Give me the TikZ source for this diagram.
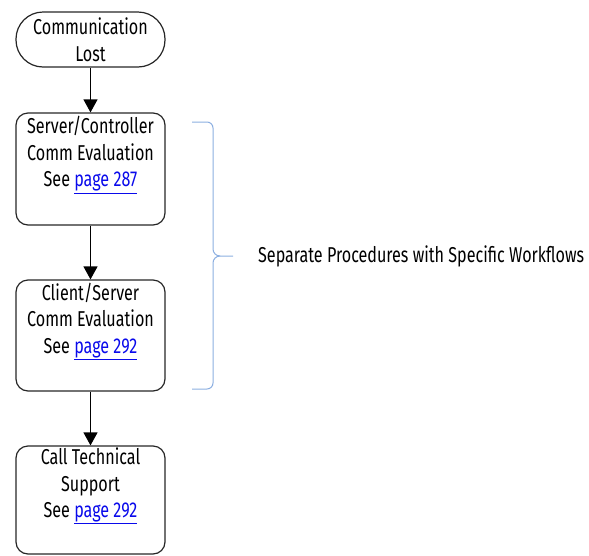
\documentclass[tikz,border=0pt]{standalone}
\usepackage{fontspec}
\setmainfont[FakeStretch=0.75]{Fira Sans}
\usetikzlibrary{arrows.meta}
\definecolor{linkblue}{RGB}{10,10,235}
\definecolor{bracecol}{RGB}{140,175,225}
\newcommand{\lnk}[1]{\textcolor{linkblue}{\underline{#1}}}
\tikzset{
  box/.style={draw=black!85, line width=1.2pt, rounded corners=12pt, minimum width=149pt,
    inner sep=0pt, align=center, font=\fontsize{21.5}{26.5}\selectfont},
  term/.style={box, rounded corners=27pt, minimum height=55pt},
  arr/.style={line width=1.2pt, -{Triangle[width=14pt,length=13pt]}},
}
\begin{document}
\begin{tikzpicture}[x=1pt,y=-1pt]
\useasboundingbox (0,0) rectangle (589,555);
\node[term] (lost) at (90.5,39.5) {Communication\\Lost};
\node[box, minimum height=112pt] (sc) at (90.5,169) {Server/Controller\\Comm Evaluation\\See \lnk{page 287}\\\strut};
\node[box, minimum height=111pt] (cs) at (90.5,335.5) {Client/Server\\Comm Evaluation\\See \lnk{page 292}\\\strut};
\node[box, minimum height=108pt] (ts) at (90.5,500) {Call Technical\\Support\\See \lnk{page 292}\\\strut};
\draw[arr] (lost) -- (sc);
\draw[arr] (sc) -- (cs);
\draw[arr] (cs) -- (ts);
\coordinate (tip) at (233,256);
\draw[bracecol, line width=1pt] (192,122) -- (207,122) to[out=0,in=90] (213,128) -- (213,249) to[out=-90,in=180] (220,256) -- (tip);
\draw[bracecol, line width=1pt] (192,389) -- (207,389) to[out=0,in=-90] (213,383) -- (213,263) to[out=90,in=180] (220,256);
\node[anchor=west, inner sep=0pt, font=\fontsize{21.5}{26.5}\selectfont] (lbl) at (258,256) {Separate Procedures with Specific Workflows};
\end{tikzpicture}
\end{document}
